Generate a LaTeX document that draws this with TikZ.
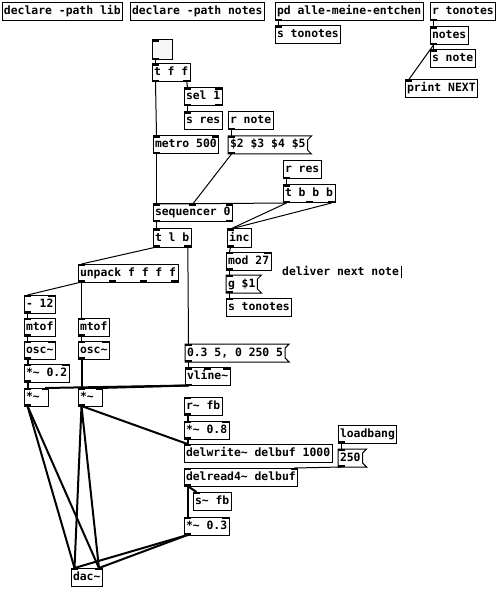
\documentclass[tikz,border=0pt]{standalone}
\usepackage{fontspec}
\setmonofont{DejaVu Sans Mono}
\usetikzlibrary{calc}

\newcommand\pdfont{\ttfamily\bfseries\fontsize{11.4}{13}\selectfont}
\newcommand\tld{\textasciitilde}
\newcommand\pdin[2]{%
  \foreach \k in {1,...,#2}{%
    \ifnum#2=1 \def\pf{0}\else\pgfmathsetmacro\pf{(\k-1)/(#2-1)}\fi
    \coordinate (#1-i\k) at ($(#1.north west)!\pf!(#1.north east)+(3.5-7*\pf,0)$);
    \fill ($(#1-i\k)+(-3.5,0)$) rectangle ++(7,2);
  }}
\newcommand\pdout[2]{%
  \foreach \k in {1,...,#2}{%
    \ifnum#2=1 \def\pf{0}\else\pgfmathsetmacro\pf{(\k-1)/(#2-1)}\fi
    \coordinate (#1-o\k) at ($(#1.south west)!\pf!(#1.south east)+(3.5-7*\pf,0)$);
    \fill ($(#1-o\k)+(-3.5,0)$) rectangle ++(7,-2);
  }}
\newcommand\pdmsg[1]{%
  \draw[line width=1pt] (#1.north west) -- ([xshift=4pt]#1.north east) -- ([yshift=-4pt]#1.north east)
    -- ([yshift=4pt]#1.south east) -- ([xshift=4pt]#1.south east) -- (#1.south west) -- cycle;}

\begin{document}
\begin{tikzpicture}[x=1pt, y=-1pt,
  obj/.style={draw, line width=1pt, anchor=north west, inner xsep=2pt, inner ysep=0pt, outer sep=0pt,
    minimum height=18pt, text height=8.5pt, text depth=2.5pt, font=\pdfont},
  msg/.style={obj, draw=none},
  narrow/.style={text width=20.6pt},
  ctl/.style={line width=1pt},
  sig/.style={line width=2pt}]
\fill[white] (0,0) rectangle (500,593);
\useasboundingbox (0,0) rectangle (500,593);

\node[obj] (decla) at (2,3) {declare -path lib};
\node[obj] (declb) at (130,3) {declare -path notes};
\node[obj] (pdalle) at (275,3) {pd alle-meine-entchen};
\node[obj] (stonA) at (275,26) {s tonotes};
\node[obj] (rton) at (430,3) {r tonotes};
\node[obj] (notes) at (430,27) {notes};
\node[obj] (snote) at (430,50) {s note};
\node[obj] (prnext) at (405,80) {print NEXT};

\node[obj, fill=gray!6, minimum size=20pt, inner sep=0pt] (bng) at (152,40) {};
\node[obj] (tff) at (152,64) {t f f};
\node[obj] (sel) at (184,88) {sel 1};
\node[obj] (sres) at (184,112) {s res};
\node[obj] (rnote) at (228,112) {r note};
\node[obj] (metro) at (153,136) {metro 500};
\node[msg] (dollars) at (228,136) {\$2 \$3 \$4 \$5};
\node[obj] (rres) at (283,161) {r res};
\node[obj] (tbbb) at (283,185) {t b b b};
\node[obj] (seq) at (153,204) {sequencer 0};
\node[obj] (tlb) at (153,229) {t l b};
\node[obj] (inc) at (227,229) {inc};
\node[obj] (mod) at (226,252) {mod 27};
\node[msg] (gset) at (226,275) {g \$1};
\node[obj] (stonB) at (226,298) {s tonotes};
\node[anchor=west, inner sep=0pt, text height=8.5pt, text depth=2.5pt, font=\pdfont] (remark) at (282,272) {deliver next note};
\draw[line width=1pt] ([xshift=2.5pt]remark.north east) -- ([xshift=2.5pt]remark.south east);

\node[obj] (unpack) at (78,264) {unpack f f f f};
\node[obj] (sub) at (24,295) {- 12};
\node[obj] (mtofA) at (24,318) {mtof};
\node[obj] (mtofB) at (78,318) {mtof};
\node[obj] (oscA) at (24,341) {osc\tld};
\node[obj] (oscB) at (78,341) {osc\tld};
\node[obj] (gain) at (24,364) {*\tld{} 0.2};
\node[obj, narrow] (multA) at (24,388) {*\tld};
\node[obj, narrow] (multB) at (78,388) {*\tld};
\node[msg] (env) at (185,344) {0.3 5, 0 250 5};
\node[obj] (vline) at (185,367.5) {vline\tld};
\node[obj] (rfb) at (184,397) {r\tld{} fb};
\node[obj] (fbgain) at (184,421) {*\tld{} 0.8};
\node[obj] (delw) at (184,444) {delwrite\tld{} delbuf 1000};
\node[obj] (lbang) at (338,425) {loadbang};
\node[msg] (dtime) at (338,449) {250};
\node[obj] (delr) at (184,468) {delread4\tld{} delbuf};
\node[obj] (sfb) at (193,492) {s\tld{} fb};
\node[obj] (wet) at (184,517) {*\tld{} 0.3};
\node[obj] (dac) at (71,568) {dac\tld};

\pdmsg{dollars} \pdmsg{gset} \pdmsg{env} \pdmsg{dtime}

\pdout{pdalle}{1} \pdin{stonA}{1} \pdout{rton}{1} \pdin{notes}{1} \pdout{notes}{1}
\pdin{snote}{1} \pdin{prnext}{1}
\pdin{bng}{1} \pdout{bng}{1} \pdin{tff}{1} \pdout{tff}{2} \pdin{sel}{2} \pdout{sel}{2}
\pdin{sres}{1} \pdout{rnote}{1} \pdin{metro}{2} \pdout{metro}{1} \pdin{dollars}{1} \pdout{dollars}{1}
\pdout{rres}{1} \pdin{tbbb}{1} \pdout{tbbb}{3} \pdin{seq}{3} \pdout{seq}{2}
\pdin{tlb}{1} \pdout{tlb}{2} \pdin{inc}{1} \pdout{inc}{1} \pdin{mod}{2} \pdout{mod}{1}
\pdin{gset}{1} \pdout{gset}{1} \pdin{stonB}{1}
\pdin{unpack}{1} \pdout{unpack}{4} \pdin{sub}{2} \pdout{sub}{1}
\pdin{mtofA}{1} \pdout{mtofA}{1} \pdin{mtofB}{1} \pdout{mtofB}{1}
\pdin{oscA}{2} \pdout{oscA}{1} \pdin{oscB}{2} \pdout{oscB}{1}
\pdin{gain}{2} \pdout{gain}{1} \pdin{multA}{2} \pdout{multA}{1} \pdin{multB}{2} \pdout{multB}{1}
\pdin{env}{1} \pdout{env}{1} \pdin{vline}{3} \pdout{vline}{1}
\pdin{rfb}{1} \pdout{rfb}{1} \pdin{fbgain}{2} \pdout{fbgain}{1} \pdin{delw}{1}
\pdout{lbang}{1} \pdin{dtime}{1} \pdout{dtime}{1} \pdin{delr}{2} \pdout{delr}{1}
\pdin{sfb}{1} \pdin{wet}{2} \pdout{wet}{1} \pdin{dac}{2}

\draw[ctl] (pdalle-o1) -- (stonA-i1);
\draw[ctl] (rton-o1) -- (notes-i1);
\draw[ctl] (notes-o1) -- (snote-i1);
\draw[ctl] (notes-o1) -- (prnext-i1);
\draw[ctl] (bng-o1) -- (tff-i1);
\draw[ctl] (tff-o1) -- (metro-i1);
\draw[ctl] (tff-o2) -- (sel-i1);
\draw[ctl] (sel-o1) -- (sres-i1);
\draw[ctl] (rnote-o1) -- (dollars-i1);
\draw[ctl] (metro-o1) -- (seq-i1);
\draw[ctl] (dollars-o1) -- (seq-i2);
\draw[ctl] (rres-o1) -- (tbbb-i1);
\draw[ctl] (tbbb-o1) -- (seq-i1);
\draw[ctl] (tbbb-o1) -- (inc-i1);
\draw[ctl] (tbbb-o3) -- (inc-i1);
\draw[ctl] (seq-o1) -- (tlb-i1);
\draw[ctl] (tlb-o1) -- (unpack-i1);
\draw[ctl] (tlb-o2) -- (env-i1);
\draw[ctl] (inc-o1) -- (mod-i1);
\draw[ctl] (mod-o1) -- (gset-i1);
\draw[ctl] (gset-o1) -- (stonB-i1);
\draw[ctl] (unpack-o1) -- (sub-i1);
\draw[ctl] (unpack-o1) -- (mtofB-i1);
\draw[ctl] (sub-o1) -- (mtofA-i1);
\draw[ctl] (mtofA-o1) -- (oscA-i1);
\draw[ctl] (mtofB-o1) -- (oscB-i1);
\draw[sig] (oscA-o1) -- (gain-i1);
\draw[sig] (gain-o1) -- (multA-i1);
\draw[sig] (oscB-o1) -- (multB-i1);
\draw[ctl] (env-o1) -- (vline-i1);
\draw[sig] (vline-o1) -- (multA-i2);
\draw[sig] (vline-o1) -- (multB-i2);
\draw[sig] (multA-o1) -- (dac-i1);
\draw[sig] (multA-o1) -- (dac-i2);
\draw[sig] (multB-o1) -- (dac-i1);
\draw[sig] (multB-o1) -- (dac-i2);
\draw[sig] (multB-o1) -- (delw-i1);
\draw[sig] (rfb-o1) -- (fbgain-i1);
\draw[sig] (fbgain-o1) -- (delw-i1);
\draw[ctl] (lbang-o1) -- (dtime-i1);
\draw[ctl] (dtime-o1) -- (delr-i2);
\draw[sig] (delr-o1) -- (sfb-i1);
\draw[sig] (delr-o1) -- (wet-i1);
\draw[sig] (wet-o1) -- (dac-i1);
\draw[sig] (wet-o1) -- (dac-i2);
\end{tikzpicture}
\end{document}
